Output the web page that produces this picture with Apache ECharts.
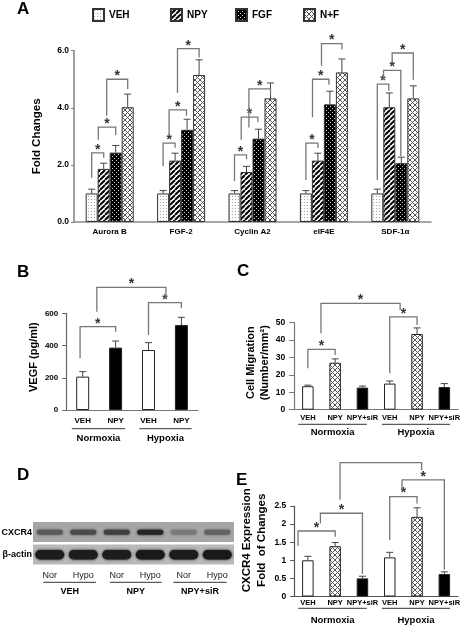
<!DOCTYPE html>
<html><head><meta charset="utf-8">
<script src="https://cdn.jsdelivr.net/npm/echarts@6/dist/echarts.min.js"></script>
<style>html,body{margin:0;padding:0;background:#fff}#c{width:472px;height:625px}</style>
</head><body><div id="c"></div>
<script>
// ================= DATA =================
// Panel A
const aCategories = ['Aurora B', 'FGF-2', 'Cyclin A2', 'eIF4E', 'SDF-1α'];
const aSeriesNames = ['VEH', 'NPY', 'FGF', 'N+F'];
const aVEH   = [1.00, 1.00, 1.00, 1.00, 1.00];
const aVEHsd = [0.15, 0.10, 0.10, 0.10, 0.15];
const aNPY   = [1.86, 2.15, 1.75, 2.15, 4.02];
const aNPYsd = [0.20, 0.26, 0.20, 0.26, 0.50];
const aFGF   = [2.43, 3.23, 2.92, 4.12, 2.06];
const aFGFsd = [0.25, 0.37, 0.33, 0.46, 0.21];
const aNF    = [4.02, 5.15, 4.33, 5.24, 4.33];
const aNFsd  = [0.46, 0.53, 0.54, 0.47, 0.44];
const aTicks = [0, 2, 4, 6];
// significance brackets: [category, fromBar, toBar, leftEnd, top, rightEnd]
const aBrackets = [
  [0, 0, 1, 1.55, 2.42, 2.25], [0, 0.55, 2, 2.88, 3.32, 3.05], [0, 1.25, 3, 3.72, 5.00, 4.66],
  [1, 0, 1, 1.95, 2.76, 2.60], [1, 0.5, 1.95, 3.05, 3.93, 3.72], [1, 1.2, 3, 4.52, 6.07, 5.76],
  [2, 0, 1, 1.44, 2.35, 2.20], [2, 0.56, 1.95, 2.88, 3.67, 3.50], [2, 1.2, 3, 3.31, 4.66, 4.46],
  [3, 0, 1, 1.47, 2.76, 2.59], [3, 0.55, 1.92, 3.67, 5.00, 4.81], [3, 1.3, 3, 5.47, 6.25, 6.04],
  [4, 0, 0.96, 1.47, 4.83, 4.60], [4, 0.52, 1.96, 4.98, 5.31, 2.30], [4, 1.24, 3, 5.57, 5.92, 4.98]
];

// Panel B
const bCategories = ['VEH', 'NPY', 'VEH', 'NPY'];
const bGroups = ['Normoxia', 'Hypoxia'];
const bValues = [207, 387, 372, 527];
const bSD     = [31, 41, 46, 48];
const bTicks  = [0, 200, 400, 600];
// [from, to, leftEnd, top, rightEnd, star]
const bBrackets = [[-0.08, 1, 321, 517, 486, 1], [2, 3, 465, 666, 631, 1], [0.43, 2.53, 610, 761, 693, 1]];

// Panel C
const cCategories = ['VEH', 'NPY', 'NPY+siR', 'VEH', 'NPY', 'NPY+siR'];
const cGroups = ['Normoxia', 'Hypoxia'];
const cValues = [13.5, 27.0, 12.7, 15.0, 43.5, 13.0];
const cSD     = [0.6, 2.2, 0.9, 1.5, 3.5, 2.0];
const cTicks  = [0, 10, 20, 30, 40, 50];
const cBrackets = [[0, 1, 23.8, 34.7, 31.4, 1], [3, 4, 20.9, 53.4, 48.7, 1], [0.48, 3.38, 43.9, 61.1, 57.3, 1]];

// Panel D (western blot band intensities, 0..1)
const dLanes = ['Nor', 'Hypo', 'Nor', 'Hypo', 'Nor', 'Hypo'];
const dLaneGroups = ['VEH', 'NPY', 'NPY+siR'];
const dRows = ['CXCR4', 'β-actin'];
const dCXCR4 = [0.55, 0.65, 0.72, 0.90, 0.35, 0.50];
const dActin = [0.95, 0.95, 0.95, 0.97, 0.95, 0.97];

// Panel E
const eCategories = ['VEH', 'NPY', 'NPY+siR', 'VEH', 'NPY', 'NPY+siR'];
const eGroups = ['Normoxia', 'Hypoxia'];
const eValues = [1.00, 1.39, 0.50, 1.08, 2.20, 0.62];
const eSD     = [0.11, 0.10, 0.06, 0.14, 0.25, 0.06];
const eTicks  = [0, 0.5, 1, 1.5, 2, 2.5];
const eBrackets = [[-0.36, 1, 1.40, 1.81, 1.65, 1], [0.46, 2, 2.02, 2.30, 0.62, 1], [3, 4, 1.56, 2.76, 2.57, 1],
                   [3.45, 5, 2.92, 3.22, 0.74, 1], [1.18, 4.17, 2.67, 3.70, 3.49, 0]];

// ================= STYLE / LAYOUT =================
const FONT = '"Liberation Sans", Arial, Helvetica, sans-serif';
const BR_COLOR = '#777';
const STAR_COLOR = '#333';
const ERR_COLOR = '#444';
const A_BAR = 12;

function pattern(kind) {
  const cv = document.createElement('canvas');
  let s = 4;
  if (kind === 'stripes' || kind === 'cross') s = 5;
  if (kind === 'dots') s = 3;
  cv.width = cv.height = s;
  const g = cv.getContext('2d');
  if (kind === 'dots') {
    g.fillStyle = '#fcfcfc'; g.fillRect(0, 0, s, s);
    g.fillStyle = '#a8a8a8'; g.fillRect(1, 1, 1, 1);
  } else if (kind === 'stripes') {
    g.fillStyle = '#fff'; g.fillRect(0, 0, s, s);
    g.strokeStyle = '#000'; g.lineWidth = 2; g.beginPath();
    for (const o of [-s, 0, s]) { g.moveTo(o, s); g.lineTo(o + s, 0); }
    g.stroke();
  } else if (kind === 'blackdots') {
    g.fillStyle = '#000'; g.fillRect(0, 0, s, s);
    g.fillStyle = '#cfcfcf'; g.fillRect(0, 0, 1, 1); g.fillRect(2, 2, 1, 1);
  } else if (kind === 'cross') {
    g.fillStyle = '#fff'; g.fillRect(0, 0, s, s);
    g.strokeStyle = '#555'; g.lineWidth = 1; g.beginPath();
    for (const o of [-s, 0, s]) { g.moveTo(o, s); g.lineTo(o + s, 0); g.moveTo(o, 0); g.lineTo(o + s, s); }
    g.stroke();
  }
  return { image: cv, repeat: 'repeat' };
}
const P_DOTS = pattern('dots'), P_STRIPES = pattern('stripes'), P_BLACKDOTS = pattern('blackdots'), P_CROSS = pattern('cross');

function bracketEl(x1, x2, yl, yt, yr, star) {
  const ch = [{ type: 'polyline', silent: true,
    shape: { points: [[x1, yl], [x1, yt], [x2, yt], [x2, yr]] },
    style: { stroke: BR_COLOR, lineWidth: 1.3, fill: 'none' } }];
  if (star) ch.push({ type: 'text', x: (x1 + x2) / 2, y: yt - 3, silent: true,
    style: { text: '*', font: 'bold 14px ' + FONT, fill: STAR_COLOR, align: 'center', verticalAlign: 'middle' } });
  return { type: 'group', children: ch };
}
function errEl(x, yb, yt, cap) {
  return { type: 'group', children: [
    { type: 'line', shape: { x1: x, y1: yb, x2: x, y2: yt }, style: { stroke: ERR_COLOR, lineWidth: 1 } },
    { type: 'line', shape: { x1: x - cap, y1: yt, x2: x + cap, y2: yt }, style: { stroke: ERR_COLOR, lineWidth: 1 } }
  ] };
}

// generic pieces for single-bar-per-category panels
function singleBarPanel(idx, values, sd, brackets, fills, barW) {
  const errRows = values.map((v, i) => [i, v, v + sd[i]]);
  return [
    { type: 'bar', xAxisIndex: idx, yAxisIndex: idx, barWidth: barW,
      data: values.map((v, i) => ({ value: v, itemStyle: { color: fills[i % fills.length] } })),
      itemStyle: { borderColor: '#222', borderWidth: 1 } },
    { type: 'custom', xAxisIndex: idx, yAxisIndex: idx, data: errRows, clip: false, z: 5, silent: true,
      encode: { x: 0, y: 2 },
      renderItem: (p, api) => {
        const r = errRows[p.dataIndex];
        const a = api.coord([r[0], r[1]]), b = api.coord([r[0], r[2]]);
        return errEl(a[0], a[1], b[1], 3.5);
      } },
    { type: 'custom', xAxisIndex: idx, yAxisIndex: idx, data: brackets, clip: false, z: 6, silent: true,
      encode: { x: 1, y: 3 },
      renderItem: (p, api) => {
        const r = brackets[p.dataIndex];
        const c0 = api.coord([0, 0])[0], bw = api.size([1, 0])[0];
        const y = v => api.coord([0, v])[1];
        return bracketEl(c0 + r[0] * bw, c0 + r[1] * bw, y(r[2]), y(r[3]), y(r[4]), r[5]);
      } }
  ];
}
function groupSeries(idx, labels, ranges, dyLine, dyText, font) {
  const rows = ranges.map((r, i) => [r[0], r[1], i]);
  return { type: 'custom', xAxisIndex: idx, yAxisIndex: idx, data: rows, clip: false, silent: true, z: 6,
    encode: { x: 2 },
    renderItem: (p, api) => {
      const r = rows[p.dataIndex];
      const cs = p.coordSys;
      const c0 = api.coord([0, 0])[0], bw = api.size([1, 0])[0];
      const x1 = c0 + r[0] * bw, x2 = c0 + r[1] * bw, yb = cs.y + cs.height;
      return { type: 'group', children: [
        { type: 'line', shape: { x1: x1, y1: yb + dyLine, x2: x2, y2: yb + dyLine }, style: { stroke: '#333', lineWidth: 1 } },
        { type: 'text', x: (x1 + x2) / 2, y: yb + dyText,
          style: { text: labels[r[2]], font: font, fill: '#000', align: 'center', verticalAlign: 'middle' } }
      ] };
    } };
}

const axisLbl = (size, extra) => Object.assign({ fontFamily: FONT, fontWeight: 'bold', fontSize: size, color: '#000' }, extra || {});

// ================= OPTION =================
const series = [];
// Panel A bars
const aData = [aVEH, aNPY, aFGF, aNF];
const aSD = [aVEHsd, aNPYsd, aFGFsd, aNFsd];
const aFills = [P_DOTS, P_STRIPES, P_BLACKDOTS, P_CROSS];
aSeriesNames.forEach((n, i) => series.push({
  name: n, type: 'bar', xAxisIndex: 0, yAxisIndex: 0, data: aData[i], barWidth: A_BAR, barGap: '0%',
  itemStyle: { color: aFills[i], borderColor: '#333', borderWidth: 1 }
}));
const aErrRows = [];
aData.forEach((arr, s) => arr.forEach((v, c) => aErrRows.push([c, v, v + aSD[s][c], s])));
series.push({ type: 'custom', xAxisIndex: 0, yAxisIndex: 0, data: aErrRows, clip: false, z: 5, silent: true,
  encode: { x: 0, y: 2 },
  renderItem: (p, api) => {
    const r = aErrRows[p.dataIndex];
    const a = api.coord([r[0], r[1]]), b = api.coord([r[0], r[2]]);
    return errEl(a[0] + (r[3] - 1.5) * A_BAR, a[1], b[1], 3.5);
  } });
series.push({ type: 'custom', xAxisIndex: 0, yAxisIndex: 0, data: aBrackets, clip: false, z: 6, silent: true,
  encode: { x: 0, y: 4 },
  renderItem: (p, api) => {
    const r = aBrackets[p.dataIndex];
    const cx = api.coord([r[0], 0])[0];
    const y = v => api.coord([r[0], v])[1];
    return bracketEl(cx + (r[1] - 1.5) * A_BAR, cx + (r[2] - 1.5) * A_BAR, y(r[3]), y(r[4]), y(r[5]), 1);
  } });

// Panel B
series.push(...singleBarPanel(1, bValues, bSD, bBrackets, ['#fff', '#000'], 13));
series.push(groupSeries(1, bGroups, [[-0.33, 1.29], [1.72, 3.31]], 18.7, 28.7, 'bold 9.5px ' + FONT));
// Panel C
series.push(...singleBarPanel(2, cValues, cSD, cBrackets, ['#fff', P_CROSS, '#000'], 11.5));
series.push(groupSeries(2, cGroups, [[-0.35, 2.16], [2.71, 5.21]], 14.6, 22.5, 'bold 9.5px ' + FONT));
// Panel E
series.push(...singleBarPanel(4, eValues, eSD, eBrackets, ['#fff', P_CROSS, '#000'], 11.5));
series.push(groupSeries(4, eGroups, [[-0.35, 2.16], [2.71, 5.21]], 11.8, 23.5, 'bold 9.5px ' + FONT));

// Panel D blot
const dStripColors = ['#a6a6a6', '#b9b9b9'];
const dBandSize = [[26, 5], [29, 9.5]];
const dStripRows = dRows.map((r, i) => [0, i]);
series.push({ type: 'custom', xAxisIndex: 3, yAxisIndex: 3, data: dStripRows, silent: true, z: 1,
  renderItem: (p, api) => {
    const cs = p.coordSys;
    const row = dStripRows[p.dataIndex][1];
    const yc = api.coord([0, row])[1], rh = api.size([0, 1])[1];
    return { type: 'rect', shape: { x: cs.x, y: yc - rh / 2 + 1, width: cs.width, height: rh - 2.5 },
      style: { fill: dStripColors[row] } };
  } });
const dBands = [];
dCXCR4.forEach((v, i) => dBands.push([i, 0, v]));
dActin.forEach((v, i) => dBands.push([i, 1, v]));
series.push({ type: 'custom', xAxisIndex: 3, yAxisIndex: 3, data: dBands, silent: true, z: 2,
  renderItem: (p, api) => {
    const r = dBands[p.dataIndex];
    const c = api.coord([r[0], r[1]]);
    const sz = dBandSize[r[1]];
    const g = Math.round(175 - 155 * r[2]);
    const col = 'rgb(' + g + ',' + g + ',' + g + ')';
    return { type: 'rect', shape: { x: c[0] - sz[0] / 2, y: c[1] - sz[1] / 2, width: sz[0], height: sz[1], r: sz[1] / 2 },
      style: { fill: col, shadowBlur: 3, shadowColor: col } };
  } });
series.push(groupSeries(3, dLaneGroups, [[-0.19, 1.38], [1.8, 3.34], [3.69, 5.28]], 16.3, 25.7, 'bold 9px ' + FONT));

const gridBase = { outerBoundsMode: 'none', containLabel: false };
const option = {
  animation: false,
  backgroundColor: '#fff',
  textStyle: { fontFamily: FONT },
  legend: aSeriesNames.map((n, i) => ({
    data: [n], left: [92, 170, 235, 303][i], top: 8, padding: 0, icon: 'rect', itemWidth: 11, itemHeight: 12,
    selectedMode: false, textStyle: { fontFamily: FONT, fontWeight: 'bold', fontSize: 10, color: '#000' }
  })),
  grid: [
    Object.assign({ left: 74, top: 50.7, width: 357, height: 171.3 }, gridBase),
    Object.assign({ left: 66.25, top: 313.3, width: 131.6, height: 96.7 }, gridBase),
    Object.assign({ left: 294.2, top: 322.7, width: 163.8, height: 87 }, gridBase),
    Object.assign({ left: 33, top: 521, width: 201, height: 45 }, gridBase),
    Object.assign({ left: 294.2, top: 506, width: 163.8, height: 90.5 }, gridBase)
  ],
  xAxis: [
    { gridIndex: 0, type: 'category', data: aCategories,
      axisLine: { lineStyle: { color: '#8a8a8a', width: 1.6 } }, axisTick: { show: false },
      axisLabel: axisLbl(8, { margin: 6, interval: 0, hideOverlap: false }) },
    { gridIndex: 1, type: 'category', data: bCategories,
      axisLine: { lineStyle: { color: '#777', width: 1.2 } }, axisTick: { show: false },
      axisLabel: axisLbl(8, { margin: 7, interval: 0, hideOverlap: false }) },
    { gridIndex: 2, type: 'category', data: cCategories,
      axisLine: { lineStyle: { color: '#777', width: 1.2 } }, axisTick: { show: false },
      axisLabel: axisLbl(7.5, { margin: 4, interval: 0, hideOverlap: false }) },
    { gridIndex: 3, type: 'category', data: dLanes,
      axisLine: { show: false }, axisTick: { show: false },
      axisLabel: { fontFamily: FONT, fontSize: 9, color: '#222', margin: 5, interval: 0, hideOverlap: false } },
    { gridIndex: 4, type: 'category', data: eCategories,
      axisLine: { lineStyle: { color: '#555', width: 1.2 } }, axisTick: { show: false },
      axisLabel: axisLbl(7.5, { margin: 2, interval: 0, hideOverlap: false }) }
  ],
  yAxis: [
    { gridIndex: 0, type: 'value', min: aTicks[0], max: aTicks[aTicks.length - 1], interval: aTicks[1] - aTicks[0],
      name: 'Fold Changes', nameLocation: 'middle', nameRotate: 90, nameGap: 31,
      nameTextStyle: axisLbl(11.5),
      axisLine: { show: true, lineStyle: { color: '#8a8a8a', width: 1.6 } },
      axisTick: { show: true, length: 3, lineStyle: { color: '#8a8a8a', width: 1.2 } }, splitLine: { show: false },
      axisLabel: axisLbl(8.5, { margin: 5, formatter: v => v.toFixed(1) }) },
    { gridIndex: 1, type: 'value', min: bTicks[0], max: bTicks[bTicks.length - 1], interval: bTicks[1] - bTicks[0],
      name: 'VEGF (pg/ml)', nameLocation: 'middle', nameRotate: 90, nameGap: 27,
      nameTextStyle: axisLbl(11, { padding: [0, 0, 0, 9] }),
      axisLine: { show: true, lineStyle: { color: '#666', width: 1.2 } },
      axisTick: { show: true, length: 4, lineStyle: { color: '#666' } }, splitLine: { show: false },
      axisLabel: axisLbl(8, { margin: 8 }) },
    { gridIndex: 2, type: 'value', min: cTicks[0], max: cTicks[cTicks.length - 1], interval: cTicks[1] - cTicks[0],
      name: 'Cell Migration\n(Number/mm²)', nameLocation: 'middle', nameRotate: 90, nameGap: 21,
      nameTextStyle: axisLbl(11, { lineHeight: 14, padding: [0, 0, 0, 7] }),
      axisLine: { show: true, lineStyle: { color: '#777', width: 1.2 } },
      axisTick: { show: true, length: 5, lineStyle: { color: '#777' } }, splitLine: { show: false },
      axisLabel: axisLbl(8.5, { margin: 9 }) },
    { gridIndex: 3, type: 'category', data: dRows, inverse: true,
      axisLine: { show: false }, axisTick: { show: false }, splitLine: { show: false },
      axisLabel: axisLbl(9, { margin: 1, interval: 0 }) },
    { gridIndex: 4, type: 'value', min: eTicks[0], max: eTicks[eTicks.length - 1], interval: eTicks[1] - eTicks[0],
      name: 'CXCR4 Expression\nFold  of Changes', nameLocation: 'middle', nameRotate: 90, nameGap: 25,
      nameTextStyle: axisLbl(11.5, { lineHeight: 15, padding: [0, 0, 0, 22] }),
      axisLine: { show: true, lineStyle: { color: '#555', width: 1.2 } },
      axisTick: { show: true, length: 4, lineStyle: { color: '#555' } }, splitLine: { show: false },
      axisLabel: axisLbl(8.5, { margin: 8 }) }
  ],
  graphic: [
    ['A', 17, 0.5], ['B', 17, 263.5], ['C', 237, 262.5], ['D', 17, 467], ['E', 236, 472]
  ].map(t => ({ type: 'text', x: t[1], y: t[2], silent: true,
    style: { text: t[0], font: 'bold 17px ' + FONT, fill: '#000' } })),
  series: series
};

const chart = echarts.init(document.getElementById('c'), null, { renderer: 'canvas', width: 472, height: 625 });
chart.setOption(option);
</script>
</body></html>
